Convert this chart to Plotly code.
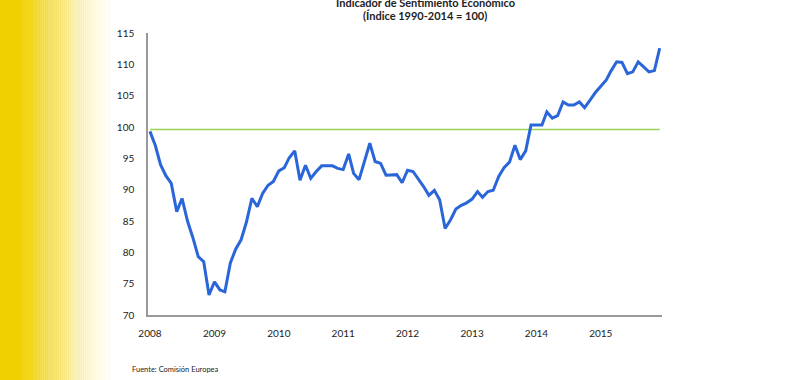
import plotly.graph_objects as go
import pandas as pd

# ---- data ----
meses = pd.date_range("2008-01-01", "2015-12-01", freq="MS")
esi = [
    99.3, 97.0, 94.0, 92.2, 91.0, 86.5, 88.6, 85.0, 82.3, 79.3, 78.5, 73.2,   # 2008
    75.3, 74.0, 73.7, 78.3, 80.5, 82.0, 84.8, 88.6, 87.3, 89.4, 90.7, 91.3,   # 2009
    93.0, 93.5, 95.1, 96.2, 91.5, 93.9, 91.8, 92.9, 93.8, 93.8, 93.8, 93.4,   # 2010
    93.2, 95.7, 92.6, 91.6, 94.4, 97.4, 94.5, 94.2, 92.3, 92.3, 92.4, 91.1,   # 2011
    93.1, 92.9, 91.8, 90.5, 89.1, 89.9, 88.4, 83.8, 85.2, 86.9, 87.5, 87.9,   # 2012
    88.5, 89.7, 88.8, 89.7, 89.9, 92.1, 93.5, 94.4, 97.1, 94.8, 96.2, 100.3,  # 2013
    100.3, 100.3, 102.4, 101.4, 101.8, 104.0, 103.5, 103.5, 104.0, 103.1, 104.3, 105.5,  # 2014
    106.5, 107.5, 109.0, 110.4, 110.3, 108.5, 108.8, 110.4, 109.6, 108.8, 109.0, 112.6,  # 2015
]
referencia = 99.6
y_ticks = [70, 75, 80, 85, 90, 95, 100, 105, 110, 115]
x_ticks = ["2008-01-01", "2009-01-01", "2010-01-01", "2011-01-01",
           "2012-01-01", "2013-01-01", "2014-01-01", "2015-01-01"]
x_labels = ["2008", "2009", "2010", "2011", "2012", "2013", "2014", "2015"]
titulo1 = "Indicador de Sentimiento Económico"
titulo2 = "(Índice 1990-2014 = 100)"
fuente = "Fuente: Comisión Europea"

W, H = 800, 380
L, R, T, B = 148, 662, 33, 315

fig = go.Figure()
fig.add_trace(go.Scatter(
    x=[meses[0], meses[-1]], y=[referencia, referencia], mode="lines",
    line=dict(color="#9BD25A", width=1.6), hoverinfo="skip", showlegend=False))
fig.add_trace(go.Scatter(
    x=meses, y=esi, mode="lines",
    line=dict(color="#2A66D8", width=3), showlegend=False))

# yellow gradient on the left edge
def px2paper(p):
    return (p - L) / (R - L)

shapes = []
shapes.append(dict(type="rect", xref="paper", yref="paper",
                   x0=px2paper(-5), x1=px2paper(20), y0=-2, y1=2,
                   fillcolor="rgb(240,208,0)", line=dict(width=0), layer="below"))
n = 45
x_start, x_end = 20, 115
for i in range(n):
    a = x_start + (x_end - x_start) * i / n
    b = x_start + (x_end - x_start) * (i + 1) / n
    t = (i + 0.5) / n
    alpha = (1 - t) ** 1.5
    shapes.append(dict(type="rect", xref="paper", yref="paper",
                       x0=px2paper(a), x1=px2paper(b) + 0.001, y0=-2, y1=2,
                       fillcolor=f"rgba(240,208,0,{alpha:.3f})",
                       line=dict(width=0), layer="below"))

font_family = "Lato, 'Open Sans', sans-serif"

def py2paper(p):
    return (B - p) / (B - T)

annotations = [
    dict(text=f"<b>{titulo1}</b>", xref="paper", yref="paper",
         x=px2paper(425), y=py2paper(2), xanchor="center", yanchor="middle",
         showarrow=False, font=dict(size=11, color="#222", family=font_family)),
    dict(text=f"<b>{titulo2}</b>", xref="paper", yref="paper",
         x=px2paper(425), y=py2paper(16), xanchor="center", yanchor="middle",
         showarrow=False, font=dict(size=11, color="#222", family=font_family)),
    dict(text=fuente, xref="paper", yref="paper",
         x=px2paper(130), y=py2paper(369), xanchor="left", yanchor="middle",
         showarrow=False, font=dict(size=7.5, color="#222", family=font_family)),
]

fig.update_layout(
    width=W, height=H,
    margin=dict(l=L, r=W - R, t=T, b=H - B, pad=0),
    paper_bgcolor="white", plot_bgcolor="rgba(0,0,0,0)",
    shapes=shapes, annotations=annotations,
    font=dict(family=font_family, size=10, color="#333"),
    xaxis=dict(type="date", range=["2007-12-21", "2015-12-14"],
               tickvals=x_ticks, ticktext=x_labels, showgrid=False,
               zeroline=False, showline=True, linecolor="#999", linewidth=1.5,
               ticks="", ticklabelstandoff=8,
               tickfont=dict(size=10, color="#222")),
    yaxis=dict(range=[70, 115], tickvals=y_ticks, showgrid=False,
               zeroline=False, showline=True, linecolor="#999", linewidth=1.5,
               ticks="", ticklabelstandoff=10,
               tickfont=dict(size=10, color="#222")),
)

fig.write_html(
    "out.html",
    config={"displayModeBar": False},
    post_script="document.body.style.margin='0';document.body.style.overflow='hidden';",
)
